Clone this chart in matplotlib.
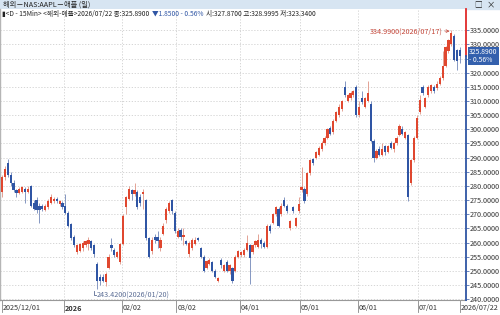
import pandas as pd
import matplotlib
matplotlib.use('Agg')
import matplotlib.pyplot as plt
from matplotlib.patches import Rectangle
from matplotlib import transforms

plt.rcParams['font.family'] = ['Noto Sans CJK KR', 'DejaVu Sans']

# trading calendar (NASDAQ), 2025/12/01 .. 2026/07/22
holidays = ['2025-12-25', '2026-01-01', '2026-01-19', '2026-02-16',
            '2026-04-03', '2026-05-25', '2026-06-19', '2026-07-03']
dates = pd.bdate_range('2025-12-01', '2026-07-22')
dates = dates[~dates.isin(pd.to_datetime(holidays))]

opens = [278, 283, 288, 284, 281, 278.5, 277.5, 278, 279, 278,
         280, 274, 275, 273, 273, 271.5, 272.5, 274, 274.5, 275.5,
         273.5, 274, 273, 270.5, 266.5, 262, 256.5, 257, 258, 259,
         259.5, 260.5, 259, 252.5, 248, 248, 246, 251, 259, 257.5,
         255, 253, 259.5, 272.5, 275.5, 278.5, 277, 278, 276, 277,
         275, 261.5, 257, 262, 262, 258, 263, 268, 271, 275,
         270.5, 262, 264.5, 262, 260.5, 256, 258, 259.5, 261.5, 258,
         255, 251, 252.5, 253, 250, 246.5, 254, 250, 253, 250,
         251, 250, 255, 255.5, 255.5, 257.5, 259, 256.5, 259, 258.5,
         261, 260, 258.5, 266, 267, 270, 272, 270, 275, 273,
         265, 272.5, 266, 271, 278.5, 279, 277, 284.5, 289.5, 290,
         291, 293, 295, 297, 300.5, 299, 303, 305, 307, 315,
         310, 311, 312, 315, 305, 311, 308, 310, 309, 296,
         290, 293, 291, 294, 292, 295, 293, 295, 298, 300,
         297, 298, 281, 289, 297, 306, 315, 308, 312, 313.5,
         315, 314.5, 316, 318, 322.5, 327.5, 330, 333, 328, 327.87]
highs = [284, 287, 289.5, 285, 282, 279, 279.5, 280, 279.5, 280,
         280.5, 275, 276, 274, 273.5, 273.5, 275.5, 277, 276, 276,
         275, 274.5, 277, 271, 267, 262.5, 259.5, 260, 260.5, 261,
         262, 261, 259.5, 253, 249, 249, 249.5, 256, 261.5, 258,
         257, 260, 270, 276.5, 280, 279, 281, 278.5, 277, 279,
         275.5, 262, 262, 263, 264, 262, 267, 272.5, 274.5, 275.5,
         271, 265, 265, 265, 261, 260.5, 261.5, 262, 262, 258.5,
         255.5, 254, 254.5, 253.5, 250.5, 248, 254.5, 252.5, 254, 252.5,
         251.5, 255.5, 257.5, 257, 258, 262.5, 259.5, 259.5, 261, 263,
         261.5, 260.5, 266.5, 266.5, 270.5, 273, 272.5, 274, 276, 273.5,
         268, 273, 269, 276, 286.8, 279.5, 285, 289.5, 290, 292.5,
         294, 296, 297.5, 300.5, 301, 303.5, 306.5, 309, 310.5, 317,
         312.5, 313.5, 314, 315.5, 310, 313.5, 311.5, 317, 310, 296.5,
         293, 294, 295, 294.5, 294.5, 296, 295.5, 297.5, 302, 301,
         299.5, 298.5, 289.5, 297.5, 305, 312, 315.5, 311.5, 315.5, 316,
         315.5, 317, 319, 327.5, 329.5, 332, 334.99, 333.5, 328.5, 328.9995]
lows = [276, 282, 283, 280, 278, 276, 277, 277.5, 274, 277.5,
        272.5, 271.5, 270.5, 267, 271, 271, 272, 273.5, 274, 274,
        273, 272, 270, 265.5, 261, 258.5, 256, 256.5, 257, 258.5,
        257.5, 257.5, 255, 243.42, 245, 246, 244.5, 250.5, 257, 255,
        254.5, 252.5, 259, 270, 275, 275, 276.5, 272, 273, 272,
        261, 254.5, 256, 260, 258, 257, 262.5, 267, 270.5, 270,
        263.5, 261.5, 261, 259, 259, 255, 257.5, 259, 260.5, 254.5,
        249.5, 250.5, 252, 249.5, 247.5, 246, 251, 249.5, 249.5, 249,
        245.8, 249.5, 254.5, 255, 255, 257, 245.5, 256, 258.5, 258,
        258, 258, 258, 263.5, 266.5, 269.5, 265.5, 269.5, 272.5, 270.5,
        264.5, 270.5, 265.5, 270.5, 278, 274, 276.5, 284, 287.5, 289.5,
        290.5, 292.5, 294.5, 296.5, 298, 298.5, 302.5, 304.5, 306.5, 311.5,
        309.5, 310.5, 311.5, 304.5, 304.5, 309, 307.5, 309.5, 295.5, 288.5,
        289.5, 290.5, 290.5, 291, 291.5, 293, 292, 294.5, 297.5, 298,
        296.5, 274.5, 280.5, 288.5, 296.5, 305.5, 312, 307.5, 311.5, 313,
        313, 314, 315.5, 317.5, 322, 327, 329.5, 324, 320.8, 323.34]
closes = [283, 286, 284, 281, 278.5, 277.5, 279, 279.5, 278, 279,
          273, 272, 271.5, 271.5, 272, 273, 274.5, 276, 275.5, 274.5,
          274.5, 272.5, 270.5, 266, 261.5, 259, 259, 259.5, 260, 260.5,
          261, 258, 256, 246.5, 246.5, 246.5, 249, 255, 258, 255.5,
          256.5, 259.5, 269.5, 276, 279, 277, 278.5, 272.5, 274, 278,
          261.5, 255, 261, 261, 260.5, 261, 266, 272, 274, 271,
          264, 264, 262, 262.5, 259.5, 260, 261, 261, 261, 255,
          250, 253.5, 254, 250, 248, 247.5, 252, 252, 250, 252,
          246.5, 255, 257, 256.5, 257.5, 260, 254.5, 259, 260.5, 261,
          259.5, 258.5, 266, 264, 270, 272.5, 266, 273, 273, 271,
          267.5, 271, 268.5, 273.5, 279.5, 274.5, 284.5, 289, 288, 292,
          293.5, 295, 297, 300, 298.5, 303, 306, 308, 310, 312,
          312, 313, 313.5, 305, 308, 309.5, 311, 313, 296, 290,
          292.5, 291, 293, 292, 294, 293.5, 295, 297, 301, 298.5,
          299, 276, 289, 297, 304, 310.5, 313, 311, 315, 315.5,
          313.5, 316, 318, 322.5, 329, 331.5, 334, 324.5, 324, 325.89]

last_price = 325.89
hi_idx, lo_idx = 156, 33

up_col, dn_col = '#e0472f', '#2f55a4'
up_wick, dn_wick = '#e3a294', '#8597c2'

fig = plt.figure(figsize=(5, 3.15), dpi=100)
ax = fig.add_axes([0, 15 / 315, 466 / 500, 291 / 315])

x = list(range(len(dates)))
for i in x:
    o, h, l, c = opens[i], highs[i], lows[i], closes[i]
    up = c >= o
    ax.vlines(i, l, h, color=up_wick if up else dn_wick, lw=0.7, zorder=2)
    body = max(abs(c - o), 0.35)
    ax.bar(i, body, bottom=min(o, c), width=0.76,
           color=up_col if up else dn_col, zorder=3, linewidth=0)

ax.set_xlim(-0.7, 161.1)
ax.set_ylim(239.7, 342.5)

# month ticks
month_start = [0] + [i for i in range(1, len(dates)) if dates[i].month != dates[i - 1].month]
tick_pos = month_start + [len(dates) - 1]
tick_lab = []
for i in tick_pos:
    d = dates[i]
    if i == 0 or i == len(dates) - 1:
        tick_lab.append(d.strftime('%Y/%m/%d'))
    elif d.month == 1:
        tick_lab.append(str(d.year))
    else:
        tick_lab.append(d.strftime('%m/%d'))

grid_kw = dict(color='#cfcfcf', lw=0.6, ls=(0, (1.5, 2)), zorder=0)
yt = list(range(240, 340, 5))
for v in yt:
    ax.axhline(v, **grid_kw)
for i in month_start[1:]:
    ax.axvline(i - 0.5, **grid_kw)

ax.set_xticks([])
xt = ax.get_xaxis_transform()
for i, lab in zip(tick_pos, tick_lab):
    p = i - 0.5 if i not in (0, len(dates) - 1) else i
    ax.plot([p, p], [0, -0.04], transform=xt, color='#888888', lw=0.6, clip_on=False)
    ax.text(p + 0.3, -0.028, lab, transform=xt, ha='left', va='center', fontsize=5.2,
            color='#333333', fontweight='bold' if lab == '2026' else 'normal')

# the 325 label sits under the current-price box
ax.yaxis.tick_right()
ax.set_yticks(yt)
ax.set_yticklabels(['' if v == 325 else f'{v:.4f}' for v in yt])
ax.tick_params(axis='y', length=2.5, width=0.5, color='#2f55a4', pad=0.5,
               labelsize=5.2, labelcolor='#333333')

for s in ['top', 'right']:
    ax.spines[s].set_visible(False)
ax.spines['bottom'].set_color('#999999')
ax.spines['bottom'].set_linewidth(0.8)
ax.spines['left'].set_color('#b5b5b5')
ax.spines['left'].set_linewidth(1.0)

# right axis coloured by current price
xr = 161.1
ax.plot([xr, xr], [last_price, 342.5], color='#e02a2a', lw=1.3, clip_on=False, zorder=5)
ax.plot([xr, xr], [239.7, last_price], color='#2f55a4', lw=1.3, clip_on=False, zorder=5)

yblend = transforms.blended_transform_factory(ax.transAxes, ax.transData)
ax.text(1.007, last_price, '325.8900\n- 0.56%', transform=yblend, ha='left', va='center',
        fontsize=4.9, color='white', linespacing=0.95, zorder=10, clip_on=False,
        bbox=dict(boxstyle='square,pad=0.18', fc='#3460ad', ec='none'))

# high / low marks
ax.annotate('334.9900(2026/07/17)', xy=(hi_idx - 0.6, highs[hi_idx] - 0.3),
            xytext=(hi_idx - 3.2, highs[hi_idx] - 0.3), ha='right', va='center',
            fontsize=5.2, color='#c4473a',
            arrowprops=dict(arrowstyle='->', color='#c4473a', lw=0.5,
                            shrinkA=0, shrinkB=0, mutation_scale=5))
ax.plot([lo_idx - 1.2, lo_idx - 1.2, lo_idx - 0.3], [lows[lo_idx] - 0.4, 241.5, 241.5],
        color='#5b6d95', lw=0.6)
ax.text(lo_idx - 0.2, 241.5, '243.4200(2026/01/20)', ha='left', va='center',
        fontsize=5.2, color='#5b6d95')

# header bar
fig.add_artist(Rectangle((0, 1 - 9 / 315), 1, 9 / 315, transform=fig.transFigure,
                         color='#d7e5f2', zorder=0))
fig.text(3 / 500, 1 - 4.5 / 315, '해외－NAS:AAPL－애플 (일)', ha='left', va='center',
         fontsize=5.2, color='#222222')
fig.text(478 / 500, 1 - 4.5 / 315, '□', ha='center', va='center', fontsize=5.5, color='#222222')
fig.text(491 / 500, 1 - 4.5 / 315, '×', ha='center', va='center', fontsize=6, color='#222222')

t1 = fig.text(2 / 500, 1 - 14 / 315, '▮<D - 15Min> <해외-애플>2026/07/22 종:325.8900',
              ha='left', va='center', fontsize=4.8, color='#222222')
t2 = ax.annotate('▼1.8500 - 0.56%', xy=(1, 0.5), xycoords=t1, xytext=(2, 0),
                 textcoords='offset points', ha='left', va='center', fontsize=4.8,
                 color='#2f55a4', annotation_clip=False)
ax.annotate('시:327.8700 고:328.9995 저:323.3400', xy=(1, 0.5), xycoords=t2, xytext=(2, 0),
            textcoords='offset points', ha='left', va='center', fontsize=4.8,
            color='#222222', annotation_clip=False)

fig.savefig('out.png', dpi=100)
